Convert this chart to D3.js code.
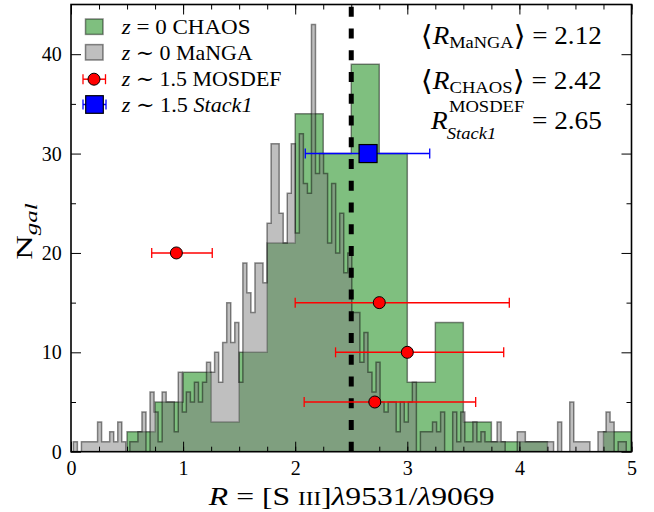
<!DOCTYPE html>
<html><head><meta charset="utf-8">
<script src="https://cdn.jsdelivr.net/npm/d3@7"></script>
<style>html,body{margin:0;padding:0;background:#fff;}svg{display:block;}text{white-space:pre;}</style>
</head><body>
<svg id="c" width="654" height="512"></svg>
<script>
// ---------------- data ----------------
const chaosStart = 0.5;
const chaosWidth = 0.25;
const chaosCounts = [2,5,8,3,10,21,34,30,39,30,7,13,3,1,1,0,0,2];

const mangaStart = 0.021;
const mangaWidth = 0.036;
const mangaCounts = [
  1,0,1,1,1,1,3,1,1,2,
  1,3,1,0,1,1,2,4,0,6,
  4,1,6,5,5,2,8,4,6,5,
  7,5,7,9,8,10,7,11,15,11,
  13,7,19,16,14,19,19,17,23,31,
  31,24,21,26,31,22,32,27,26,43,
  28,30,28,21,27,20,24,18,20,14,
  14,9,12,8,6,9,5,4,5,5,
  2,5,3,5,7,0,2,2,2,3,
  2,4,0,0,4,1,4,1,1,3,
  1,2,1,1,1,3,1,0,0,0,
  2,2,1,1,1,1,1,1,1,0,
  3,0,0,5,1,1,1,1,0,0,
  2,2,4,3,0,1,1,0
];

const mosdefR  = [0.94, 2.75, 3.00, 2.71];
const mosdefN  = [20, 15, 10, 5];
const mosdefLo = [0.72, 2.00, 2.36, 2.08];
const mosdefHi = [1.26, 3.91, 3.86, 3.61];

const stackR  = [2.65];
const stackN  = [30];
const stackLo = [2.09];
const stackHi = [3.20];

const refLine = 2.5;
const xDomain = [0, 5];
const yDomain = [0, 45];
const xTicks = [0, 1, 2, 3, 4, 5];
const xMinorTicks = d3.range(0, 5.001, 0.25);
const yTicks = [0, 10, 20, 30, 40];
const yMinorTicks = [5, 15, 25, 35];
const legendLabels = ["CHAOS", "MaNGA", "MOSDEF", "Stack1"];
const legendRedshift = ["0", "0", "1.5", "1.5"];
const meanValues = ["2.12", "2.42", "2.65"];

// ---------------- layout ----------------
const FF = "'Liberation Serif','DejaVu Serif',serif";
const m = {l: 71, r: 631.5, t: 4.5, b: 451.7};
const x = d3.scaleLinear().domain(xDomain).range([m.l, m.r]);
const y = d3.scaleLinear().domain(yDomain).range([m.b, m.t]);

const svg = d3.select("#c");
svg.append("rect").attr("width", 654).attr("height", 512).attr("fill", "#fff");
svg.append("defs").append("clipPath").attr("id", "clip")
  .append("rect").attr("x", m.l).attr("y", m.t).attr("width", m.r - m.l).attr("height", m.b - m.t);
const plot = svg.append("g").attr("clip-path", "url(#clip)");

function stepPts(start, width, counts) {
  const pts = counts.map((n, i) => ({e: start + i * width, n}));
  pts.push({e: start + counts.length * width, n: counts[counts.length - 1]});
  return pts;
}
const area = d3.area().curve(d3.curveStepAfter)
  .x(d => x(d.e)).y0(y(0)).y1(d => y(d.n));

const chaosStyle = s => s.attr("fill", "#008000").attr("fill-opacity", 0.5)
  .attr("stroke", "#000").attr("stroke-opacity", 0.45).attr("stroke-width", 1.5);
const mangaStyle = s => s.attr("fill", "#808080").attr("fill-opacity", 0.5)
  .attr("stroke", "#000").attr("stroke-opacity", 0.45).attr("stroke-width", 1.5);

plot.append("path").datum(stepPts(chaosStart, chaosWidth, chaosCounts)).attr("d", area).call(chaosStyle);
plot.append("path").datum(stepPts(mangaStart, mangaWidth, mangaCounts)).attr("d", area).call(mangaStyle);

// dashed reference line (dash pattern starts at the bottom)
plot.append("line").attr("x1", x(refLine)).attr("x2", x(refLine))
  .attr("y1", y(0)).attr("y2", y(yDomain[1]))
  .attr("stroke", "#000").attr("stroke-width", 5).attr("stroke-dasharray", "10,11.75");

// error bars
function errbar(g, cx, cy, lo, hi, color) {
  g.append("line").attr("x1", lo).attr("x2", hi).attr("y1", cy).attr("y2", cy)
    .attr("stroke", color).attr("stroke-width", 1.5);
  [lo, hi].forEach(v => g.append("line").attr("x1", v).attr("x2", v)
    .attr("y1", cy - 5).attr("y2", cy + 5).attr("stroke", color).attr("stroke-width", 1.3));
}
const eg = svg.append("g");
mosdefR.forEach((r, i) => {
  errbar(eg, x(r), y(mosdefN[i]), x(mosdefLo[i]), x(mosdefHi[i]), "#ff0000");
});
mosdefR.forEach((r, i) => {
  eg.append("circle").attr("cx", x(r)).attr("cy", y(mosdefN[i])).attr("r", 6)
    .attr("fill", "#ff0000").attr("stroke", "#000").attr("stroke-width", 1);
});
stackR.forEach((r, i) => {
  errbar(eg, x(r), y(stackN[i]), x(stackLo[i]), x(stackHi[i]), "#0000ff");
  eg.append("rect").attr("x", x(r) - 9).attr("y", y(stackN[i]) - 9).attr("width", 18).attr("height", 18)
    .attr("fill", "#0000ff").attr("stroke", "#000").attr("stroke-width", 1.2);
});

// ---------------- axes ----------------
function styleAxis(g) { g.select(".domain").remove(); g.selectAll("line").attr("stroke", "#000").attr("stroke-width", 1); }
svg.append("g").attr("transform", `translate(0,${m.b})`)
  .call(d3.axisBottom(x).tickValues(xMinorTicks).tickSize(-5).tickFormat("")).call(styleAxis);
svg.append("g").attr("transform", `translate(0,${m.t})`)
  .call(d3.axisTop(x).tickValues(xMinorTicks).tickSize(-5).tickFormat("")).call(styleAxis);
svg.append("g").attr("transform", `translate(0,${m.t})`)
  .call(d3.axisTop(x).tickValues(xTicks).tickSize(-10).tickFormat("")).call(styleAxis);
const gx = svg.append("g").attr("transform", `translate(0,${m.b})`)
  .call(d3.axisBottom(x).tickValues(xTicks).tickSize(-10).tickFormat(d => String(d))).call(styleAxis);
gx.attr("font-family", FF).attr("font-size", 20);
gx.selectAll("text").attr("y", 23.3).attr("dy", null).attr("fill", "#000");

svg.append("g").attr("transform", `translate(${m.l},0)`)
  .call(d3.axisLeft(y).tickValues(yMinorTicks).tickSize(-5).tickFormat("")).call(styleAxis);
svg.append("g").attr("transform", `translate(${m.r},0)`)
  .call(d3.axisRight(y).tickValues(yMinorTicks).tickSize(-5).tickFormat("")).call(styleAxis);
svg.append("g").attr("transform", `translate(${m.r},0)`)
  .call(d3.axisRight(y).tickValues(yTicks).tickSize(-10).tickFormat("")).call(styleAxis);
const gy = svg.append("g").attr("transform", `translate(${m.l},0)`)
  .call(d3.axisLeft(y).tickValues(yTicks).tickSize(-10).tickPadding(9.3).tickFormat(d => String(d))).call(styleAxis);
gy.attr("font-family", FF).attr("font-size", 20);
gy.selectAll("text").attr("fill", "#000").attr("dy", "0.33em");

svg.append("rect").attr("x", m.l).attr("y", m.t).attr("width", m.r - m.l).attr("height", m.b - m.t)
  .attr("fill", "none").attr("stroke", "#000").attr("stroke-width", 1.6);

// ---------------- rich text helpers ----------------
function rich(g, parts, size, anchor) {
  const t = g.append("text").attr("font-family", FF).attr("font-size", size)
    .attr("text-anchor", anchor || "start").attr("fill", "#000");
  let shift = 0;
  parts.forEach(p => {
    const ts = t.append("tspan").text(p.t);
    if (p.it) ts.attr("font-style", "italic");
    if (p.size) ts.attr("font-size", p.size);
    const s = p.dy || 0;
    if (s !== shift) { ts.attr("dy", s - shift); shift = s; }
  });
  return t;
}
function fit(g, tx, ty, target, pre) {
  const bb = g.node().getBBox();
  const s = target / bb.width;
  g.attr("transform", `translate(${tx},${ty}) ${pre || ""} scale(${s},1)`);
}

// ---------------- legend ----------------
const lg = svg.append("g");
const rowY = [26.7, 52.3, 79.2, 104.5];
const rowBase = [34.3, 60, 86, 111.7];
const rowW = [130, 133, 161, 132];
lg.append("rect").attr("x", 85.5).attr("y", rowY[0] - 7.7).attr("width", 17.5).attr("height", 15.4).call(chaosStyle);
lg.append("rect").attr("x", 85.5).attr("y", rowY[1] - 7.7).attr("width", 17.5).attr("height", 15.4).call(mangaStyle);
errbar(lg, 94, rowY[2], 83, 105.5, "#ff0000");
lg.append("circle").attr("cx", 94).attr("cy", rowY[2]).attr("r", 6)
  .attr("fill", "#ff0000").attr("stroke", "#000").attr("stroke-width", 1);
errbar(lg, 94, rowY[3], 83, 106, "#0000ff");
lg.append("rect").attr("x", 94.5 - 8.8).attr("y", rowY[3] - 8.8).attr("width", 17.6).attr("height", 17.6)
  .attr("fill", "#0000ff").attr("stroke", "#000").attr("stroke-width", 1.2);

legendLabels.forEach((lab, i) => {
  const rel = i === 0 ? " = " : " \u223C ";
  const parts = [{t: "z", it: 1}, {t: rel + legendRedshift[i] + " "}, {t: lab, it: i === 3 ? 1 : 0}];
  const g = lg.append("g");
  rich(g, parts, 21, "start");
  fit(g, 121.7, rowBase[i], rowW[i]);
});

// ---------------- annotations ----------------
const ag1 = svg.append("g");
rich(ag1, [{t: "\u27E8", size: 28, dy: 1}, {t: "R", it: 1}, {t: "MaNGA", size: 17, dy: 4}, {t: "\u27E9", size: 28, dy: 1}, {t: " = " + meanValues[0]}], 25, "end");
fit(ag1, 601.7, 44.3, 181);
const ag2 = svg.append("g");
rich(ag2, [{t: "\u27E8", size: 28, dy: 1}, {t: "R", it: 1}, {t: "CHAOS", size: 17, dy: 4}, {t: "\u27E9", size: 28, dy: 1}, {t: " = " + meanValues[1]}], 25, "end");
fit(ag2, 601.7, 89, 181);

const ag3 = svg.append("g");
const tR = ag3.append("text").attr("font-family", FF).attr("font-size", 25).attr("font-style", "italic").text("R");
const wR = tR.node().getComputedTextLength();
const tSup = ag3.append("text").attr("font-family", FF).attr("font-size", 17).attr("x", wR + 1).attr("y", -17).text("MOSDEF");
const tSub = ag3.append("text").attr("font-family", FF).attr("font-size", 17).attr("font-style", "italic")
  .attr("x", wR - 1).attr("y", 10).text("Stack1");
const wS = Math.max(tSup.node().getComputedTextLength() + 1, tSub.node().getComputedTextLength() - 1);
ag3.append("text").attr("font-family", FF).attr("font-size", 25).attr("x", wR + wS + 7).text("= " + meanValues[2]);
{
  const bb = ag3.node().getBBox();
  const s = 172 / bb.width;
  ag3.attr("transform", `translate(${430 - bb.x * s},129) scale(${s},1)`);
}

// ---------------- axis labels ----------------
const xl = svg.append("g");
rich(xl, [{t: "R", it: 1}, {t: " = [S "}, {t: "III", size: 19}, {t: "]"}, {t: "\u03BB", it: 1}, {t: "9531/"}, {t: "\u03BB", it: 1}, {t: "9069"}], 26, "middle");
fit(xl, 351.7, 505, 287);

const yl = svg.append("g");
rich(yl, [{t: "N"}, {t: "gal", it: 1, size: 17, dy: 5}], 23, "middle");
fit(yl, 31.7, 231.5, 57, "rotate(-90)");
</script>
</body></html>
